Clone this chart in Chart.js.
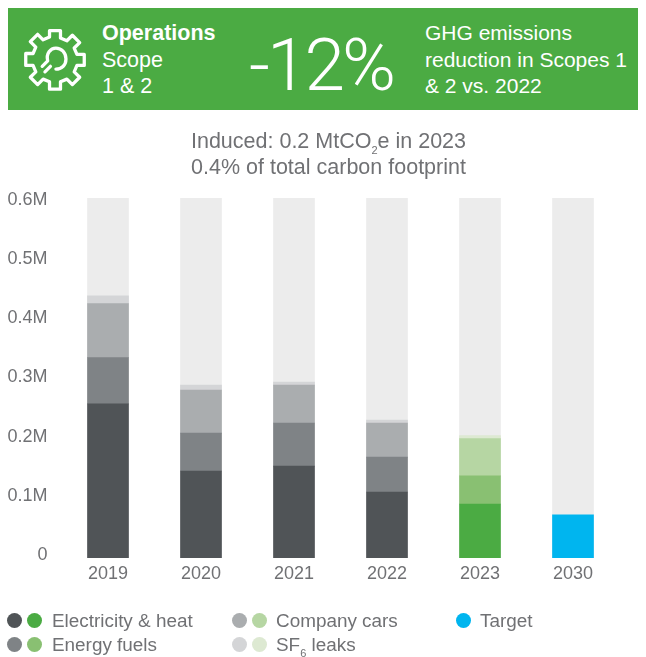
<!DOCTYPE html>
<html>
<head>
<meta charset="utf-8">
<script src="https://cdn.jsdelivr.net/npm/chart.js@4"></script>
<style>
  html, body { margin: 0; padding: 0; background: #fff; }
  body { width: 646px; height: 657px; position: relative; overflow: hidden; font-family: "Liberation Sans", sans-serif; color: #707174; }
  canvas { position: absolute; left: 0; top: 0; }
  .t { position: absolute; white-space: nowrap; line-height: 26px; }
  .t sub { font-size: 11px; line-height: 0; vertical-align: -6px; }
  #banner { position: absolute; left: 8px; top: 8px; width: 630px; height: 102px; background: #4bab43; }
  .w { color: #fff; font-size: 21px; }
  .title { left: 0; width: 657px; text-align: center; font-size: 21.5px; }
  .dot { position: absolute; width: 15px; height: 15px; border-radius: 50%; }
  .leg { font-size: 18.9px; }
</style>
</head>
<body>
<canvas id="chart" width="646" height="657"></canvas>

<div id="banner"></div>
<svg width="64" height="64" viewBox="0 0 70 70" style="position:absolute;left:23px;top:27px" fill="none" stroke="#fff" stroke-width="3.6" stroke-linejoin="round" stroke-linecap="round">
  <path d="M29 4h12v8l7 3 6-6 8 8-6 6 3 7h8v12h-8l-3 7 6 6-8 8-6-6-7 3v8H29v-8l-7-3-6 6-8-8 6-6-3-7H3V29h8l3-7-6-6 8-8 6 6 7-3z"/>
  <path d="M21 43l6-6c-2-8 3-14 9-14 6 0 11 5 11 12 0 7-5 11-11 11"/>
  <path d="M24 49l6-6"/>
</svg>
<div class="t w" style="left:102px;top:20px;font-weight:700;font-size:21.5px">Operations</div>
<div class="t w" style="left:102px;top:47px;font-size:21.5px">Scope</div>
<div class="t w" style="left:102px;top:73px;font-size:21.5px">1 &amp; 2</div>
<div class="t" style="left:249px;top:27px;color:#fff;font-family:Roboto,sans-serif;font-size:73px;line-height:76px;letter-spacing:-3px;font-weight:300">-12%</div>
<div class="t w" style="left:425px;top:20px">GHG emissions</div>
<div class="t w" style="left:425px;top:47px">reduction in Scopes 1</div>
<div class="t w" style="left:425px;top:73px">&amp; 2 vs. 2022</div>

<div class="t title" style="top:128px">Induced: 0.2 MtCO<sub>2</sub>e in 2023</div>
<div class="t title" style="top:154px">0.4% of total carbon footprint</div>

<div class="dot" style="left:7px;top:613px;background:#505457"></div>
<div class="dot" style="left:27px;top:613px;background:#4bab43"></div>
<div class="t leg" style="left:52px;top:608px">Electricity &amp; heat</div>
<div class="dot" style="left:7px;top:637px;background:#7f8386"></div>
<div class="dot" style="left:27px;top:637px;background:#89c072"></div>
<div class="t leg" style="left:52px;top:632px">Energy fuels</div>
<div class="dot" style="left:232px;top:613px;background:#aaadaf"></div>
<div class="dot" style="left:252px;top:613px;background:#b6d6a3"></div>
<div class="t leg" style="left:276px;top:608px">Company cars</div>
<div class="dot" style="left:232px;top:637px;background:#d4d5d7"></div>
<div class="dot" style="left:252px;top:637px;background:#dde9d2"></div>
<div class="t leg" style="left:276px;top:632px">SF<sub>6</sub> leaks</div>
<div class="dot" style="left:456px;top:613px;background:#00b5ef"></div>
<div class="t leg" style="left:480px;top:608px">Target</div>

<script>
//Data (million tCO2e)
const years = ["2019", "2020", "2021", "2022", "2023", "2030"];
const electricity = [0.257, 0.145, 0.153, 0.11, 0.09, null];
const energyFuels = [0.077, 0.063, 0.072, 0.058, 0.047, null];
const companyCars = [0.09, 0.072, 0.063, 0.057, 0.062, null];
const sf6Leaks = [0.013, 0.008, 0.005, 0.005, 0.005, null];
const target = [null, null, null, null, null, 0.072];
const track = [0.6, 0.6, 0.6, 0.6, 0.6, 0.6];
const tickValues = [0, 0.1, 0.2, 0.3, 0.4, 0.5, 0.6];
const tickLabels = ["0", "0.1M", "0.2M", "0.3M", "0.4M", "0.5M", "0.6M"];

//Grey for past years, green for the reporting year
const shade = (grey, green) => years.map((y) => (y === "2023" ? green : grey));

const makeBars = (label, data, color) => ({
  label: label,
  data: data,
  backgroundColor: color,
  barThickness: 41,
  grouped: false,
  xAxisID: "x",
  yAxisID: "y",
  order: 1,
});

let context = document.querySelector("#chart").getContext("2d");

let config = {
  type: "bar",
  data: {
    labels: years,
    datasets: [
      makeBars("Electricity & heat", electricity, shade("#505457", "#4bab43")),
      makeBars("Energy fuels", energyFuels, shade("#7f8386", "#89c072")),
      makeBars("Company cars", companyCars, shade("#aaadaf", "#b6d6a3")),
      makeBars("SF6 leaks", sf6Leaks, shade("#d4d5d7", "#dde9d2")),
      makeBars("Target", target, "#00b5ef"),
      { label: "Track", data: track, backgroundColor: "#ececec", barThickness: 41, grouped: false, xAxisID: "xTrack", yAxisID: "y", order: 2 },
    ],
  },
  options: {
    responsive: false,
    animation: false,
    layout: { padding: { top: 198, right: 26.5, bottom: 0, left: 0 } },
    plugins: { legend: { display: false }, title: { display: false }, tooltip: { enabled: false } },
    scales: {
      x: {
        stacked: true,
        grid: { display: false, drawTicks: false },
        border: { display: false },
        ticks: { color: "#707174", padding: 5, font: { family: "'Liberation Sans', sans-serif", size: 18 } },
        afterFit: (scale) => { scale.height = 99; },
      },
      xTrack: { stacked: true, display: false },
      y: { stacked: true, display: false, min: 0, max: 0.6 },
      //Labels sit on a slightly tighter spacing than the bars in the reference
      yLabels: {
        position: "left",
        min: -0.00507,
        max: 0.6034,
        grid: { display: false, drawTicks: false },
        border: { display: false },
        afterBuildTicks: (axis) => { axis.ticks = tickValues.map((v) => ({ value: v })); },
        ticks: {
          autoSkip: false,
          color: "#707174",
          padding: 14,
          font: { family: "'Liberation Sans', sans-serif", size: 18 },
          callback: (value, index) => tickLabels[index],
        },
        afterFit: (scale) => { scale.width = 61.5; },
      },
    },
  },
};
let chart = new Chart(context, config);
</script>
</body>
</html>
